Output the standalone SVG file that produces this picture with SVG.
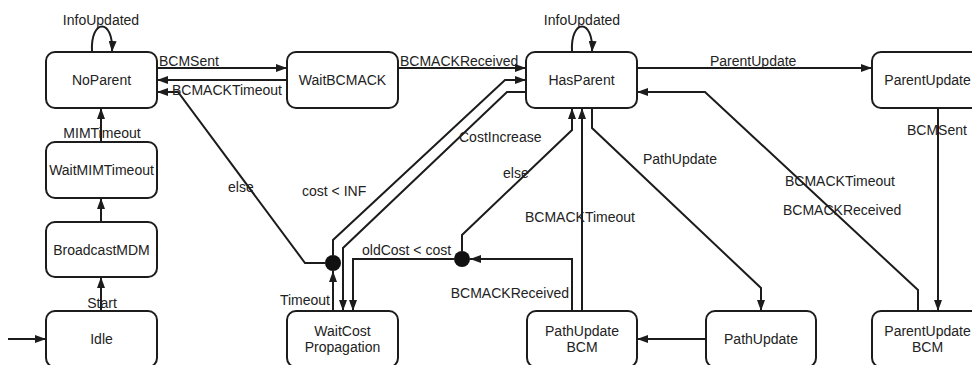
<svg xmlns="http://www.w3.org/2000/svg" width="972" height="365" viewBox="0 0 972 365">
  <style>
    .node rect { fill: #ffffff; stroke: #1c1c1c; stroke-width: 2; }
    .node text, .lbl { font-family: "Liberation Sans", Arial, sans-serif; font-size: 14px; fill: #222222; }
    .node text { text-anchor: middle; }
    .edge { fill: none; stroke: #1c1c1c; stroke-width: 2; marker-end: url(#arrow); }
    .junction { fill: #111111; }
    .mid { text-anchor: middle; }
    .end { text-anchor: end; }
  </style>
  <defs>
    <marker id="arrow" markerWidth="11" markerHeight="8" refX="11" refY="4" orient="auto" markerUnits="userSpaceOnUse">
      <path d="M0,0 L11,4 L0,8 z" fill="#1c1c1c"/>
    </marker>
  </defs>

  <rect width="972" height="365" fill="#ffffff"/>

  <!-- transitions -->
  <g id="connectors">
    <path class="edge" d="M8,339 L46,339"/>
    <path class="edge" d="M101,311 L101,277"/>
    <path class="edge" d="M101,222 L101,198"/>
    <path class="edge" d="M101,142 L101,108"/>
    <path class="edge" d="M92,52 C90,18 114,18 112,52"/>
    <path class="edge" d="M157,68 L287,68"/>
    <path class="edge" d="M287,80 L157,80"/>
    <path class="edge" d="M325,263 L305,263 L178,92 L157,92"/>
    <path class="edge" d="M398,68 L526,68"/>
    <path class="edge" d="M333,255 L333,240 L505,80 L526,80"/>
    <path class="edge" d="M526,92 L507,92 L343,248 L343,311"/>
    <path class="edge" d="M333,311 L333,271"/>
    <path class="edge" d="M454,259 L353,259 L353,311"/>
    <path class="edge" d="M572,311 L572,259 L470,259"/>
    <path class="edge" d="M462,251 L462,235 L572,130 L572,108"/>
    <path class="edge" d="M582,311 L582,108"/>
    <path class="edge" d="M592,108 L592,128 L761,288 L761,311"/>
    <path class="edge" d="M706,339 L637,339"/>
    <path class="edge" d="M572,52 C570,18 594,18 592,52"/>
    <path class="edge" d="M637,68 L872,68"/>
    <path class="edge" d="M938,108 L938,311"/>
    <path class="edge" d="M918,311 L918,290 L705,92 L637,92"/>

    <circle class="junction" cx="333" cy="263" r="8"/>
    <circle class="junction" cx="462" cy="259" r="8"/>

    <text class="lbl mid" x="101" y="25">InfoUpdated</text>
    <text class="lbl" x="159" y="66">BCMSent</text>
    <text class="lbl" x="172" y="95">BCMACKTimeout</text>
    <text class="lbl mid" x="102" y="138">MIMTimeout</text>
    <text class="lbl mid" x="102" y="308">Start</text>
    <text class="lbl" x="228" y="192">else</text>
    <text class="lbl" x="400" y="66">BCMACKReceived</text>
    <text class="lbl mid" x="582" y="25">InfoUpdated</text>
    <text class="lbl" x="302" y="196">cost &lt; INF</text>
    <text class="lbl" x="459" y="142">CostIncrease</text>
    <text class="lbl" x="503" y="178">else</text>
    <text class="lbl" x="525" y="222">BCMACKTimeout</text>
    <text class="lbl" x="643" y="164">PathUpdate</text>
    <text class="lbl end" x="330" y="305">Timeout</text>
    <text class="lbl" x="362" y="255">oldCost &lt; cost</text>
    <text class="lbl end" x="569" y="298">BCMACKReceived</text>
    <text class="lbl" x="710" y="66">ParentUpdate</text>
    <text class="lbl" x="907" y="135">BCMSent</text>
    <text class="lbl" x="785" y="186">BCMACKTimeout</text>
    <text class="lbl" x="783" y="215">BCMACKReceived</text>
  </g>

  <!-- states -->
  <g id="noparent" class="node">
    <rect x="46" y="52" width="111" height="56" rx="9"/>
    <text x="101.5" y="85">NoParent</text>
  </g>
  <g id="waitmimtimeout" class="node">
    <rect x="46" y="142" width="111" height="56" rx="9"/>
    <text x="101.5" y="175">WaitMIMTimeout</text>
  </g>
  <g id="broadcastmdm" class="node">
    <rect x="46" y="222" width="111" height="55" rx="9"/>
    <text x="101.5" y="255">BroadcastMDM</text>
  </g>
  <g id="idle" class="node">
    <rect x="46" y="311" width="111" height="56" rx="9"/>
    <text x="101.5" y="344">Idle</text>
  </g>
  <g id="waitbcmack" class="node">
    <rect x="287" y="52" width="111" height="56" rx="9"/>
    <text x="342.5" y="85">WaitBCMACK</text>
  </g>
  <g id="waitcostpropagation" class="node">
    <rect x="287" y="311" width="111" height="56" rx="9"/>
    <text x="342.5" y="336">WaitCost</text>
    <text x="342.5" y="352">Propagation</text>
  </g>
  <g id="hasparent" class="node">
    <rect x="526" y="52" width="111" height="56" rx="9"/>
    <text x="581.5" y="85">HasParent</text>
  </g>
  <g id="pathupdatebcm" class="node">
    <rect x="527" y="311" width="110" height="56" rx="9"/>
    <text x="582" y="336">PathUpdate</text>
    <text x="582" y="352">BCM</text>
  </g>
  <g id="pathupdate" class="node">
    <rect x="706" y="311" width="110" height="56" rx="9"/>
    <text x="761" y="344">PathUpdate</text>
  </g>
  <g id="parentupdate" class="node">
    <rect x="872" y="52" width="111" height="56" rx="9"/>
    <text x="927.5" y="85">ParentUpdate</text>
  </g>
  <g id="parentupdatebcm" class="node">
    <rect x="872" y="311" width="111" height="56" rx="9"/>
    <text x="927.5" y="336">ParentUpdate</text>
    <text x="927.5" y="352">BCM</text>
  </g>
</svg>
